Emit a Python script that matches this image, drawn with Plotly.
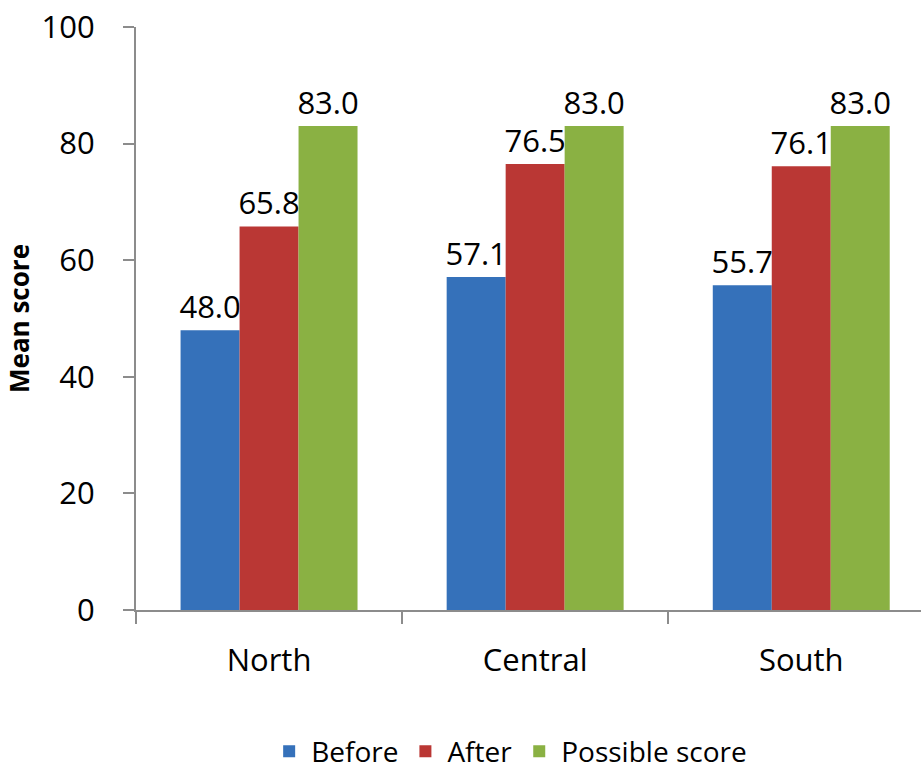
import plotly.graph_objects as go

# Mean scores by region
regions = ["North", "Central", "South"]
before = [48.0, 57.1, 55.7]
after = [65.8, 76.5, 76.1]
possible = [83.0, 83.0, 83.0]

series_names = ["Before", "After", "Possible score"]
series_values = [before, after, possible]
series_colors = ["#3571BA", "#BA3734", "#8AB143"]

y_ticks = [0, 20, 40, 60, 80, 100]

FONT = "Open Sans"
AXIS_GREY = "#8C8C8C"

fig = go.Figure()
for name, vals, color in zip(series_names, series_values, series_colors):
    fig.add_trace(go.Bar(
        name=name,
        x=regions,
        y=vals,
        marker=dict(color=color, line=dict(width=0)),
        text=[f"{v:.1f}" for v in vals],
        textposition="outside",
        constraintext="none",
        textfont=dict(family=FONT, size=31, color="black"),
        cliponaxis=False,
    ))

fig.update_layout(
    width=921,
    height=773,
    margin=dict(l=136, r=0, t=27, b=163, autoexpand=False),
    paper_bgcolor="white",
    plot_bgcolor="white",
    barmode="group",
    bargap=0.335,
    bargroupgap=0,
    font=dict(family=FONT, color="black"),
    showlegend=True,
    legend=dict(
        orientation="h",
        x=0.476,
        xanchor="center",
        y=-0.243,
        yanchor="middle",
        font=dict(family=FONT, size=28, color="black"),
        itemwidth=34,
        tracegroupgap=0,
    ),
)

fig.update_xaxes(
    range=[-0.5, 2.45],
    showgrid=False,
    showline=True,
    linecolor=AXIS_GREY,
    linewidth=2,
    ticks="outside",
    tickson="boundaries",
    ticklen=12,
    tickwidth=2,
    tickcolor=AXIS_GREY,
    tickfont=dict(family=FONT, size=31, color="black"),
    ticklabelstandoff=22,
)

fig.update_yaxes(
    range=[0, 100],
    tickvals=y_ticks,
    showgrid=False,
    zeroline=False,
    showline=True,
    linecolor=AXIS_GREY,
    linewidth=2,
    ticks="outside",
    ticklen=11,
    tickwidth=2,
    tickcolor=AXIS_GREY,
    tickfont=dict(family=FONT, size=31, color="black"),
    ticklabelstandoff=22,
    title=dict(
        text="<b>Mean score</b>",
        font=dict(family=FONT, size=26, color="black"),
        standoff=5,
    ),
)

fig.write_html("out.html")
